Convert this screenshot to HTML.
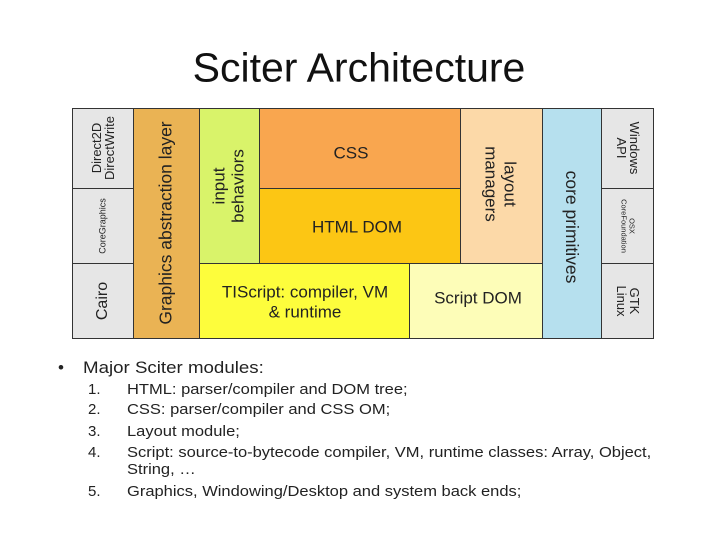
<!DOCTYPE html>
<html><head><meta charset="utf-8"><style>
body{margin:0;width:720px;height:540px;background:#fff;position:relative;overflow:hidden;font-family:"Liberation Sans",Arial,sans-serif}
.b{position:absolute;border:1px solid #333;box-sizing:border-box}
.t{position:absolute;white-space:nowrap;text-align:center;line-height:1.0;color:#222}
.l{transform:translate(-50%,-50%) rotate(-90deg)}
.r{transform:translate(-50%,-50%) rotate(90deg)}
.c{transform:translate(-50%,-50%)}
.txt{position:absolute;white-space:nowrap;font-size:15px;color:#222;transform-origin:0 0}
.s{transform:scaleX(1.1)}
</style></head><body>
<div class="t c" style="left:359px;top:68px;font-size:41px;color:#111">Sciter Architecture</div>

<div class="b" style="left:72px;top:108px;width:62px;height:81px;background:#e6e6e6"></div>
<div class="b" style="left:72px;top:188px;width:62px;height:76px;background:#e6e6e6"></div>
<div class="b" style="left:72px;top:263px;width:62px;height:76px;background:#e6e6e6"></div>
<div class="b" style="left:133px;top:108px;width:67px;height:231px;background:#eab354"></div>
<div class="b" style="left:199px;top:108px;width:61px;height:156px;background:#d9f36a"></div>
<div class="b" style="left:259px;top:108px;width:202px;height:81px;background:#f9a64f"></div>
<div class="b" style="left:259px;top:188px;width:202px;height:76px;background:#fcc614"></div>
<div class="b" style="left:460px;top:108px;width:83px;height:156px;background:#fcd9a8"></div>
<div class="b" style="left:199px;top:263px;width:211px;height:76px;background:#fdfd3c"></div>
<div class="b" style="left:409px;top:263px;width:134px;height:76px;background:#fdfdb8"></div>
<div class="b" style="left:542px;top:108px;width:60px;height:231px;background:#b6e0ee"></div>
<div class="b" style="left:601px;top:108px;width:53px;height:81px;background:#e6e6e6"></div>
<div class="b" style="left:601px;top:188px;width:53px;height:76px;background:#e6e6e6"></div>
<div class="b" style="left:601px;top:263px;width:53px;height:76px;background:#e6e6e6"></div>

<div class="t l" style="left:103px;top:148px;font-size:13px">Direct2D<br>DirectWrite</div>
<div class="t l" style="left:103px;top:226px;font-size:9px">CoreGraphics</div>
<div class="t l" style="left:103px;top:301px;font-size:16px">Cairo</div>
<div class="t l" style="left:166px;top:223px;font-size:17.5px">Graphics abstraction layer</div>
<div class="t l" style="left:229px;top:186px;font-size:17px;line-height:1.1">input<br>behaviors</div>
<div class="t c" style="left:351px;top:153px;font-size:17px">CSS</div>
<div class="t c" style="left:357px;top:227px;font-size:17px">HTML DOM</div>
<div class="t r" style="left:500px;top:184px;font-size:17px;line-height:1.1">layout<br>managers</div>
<div class="t c" style="left:305px;top:302px;font-size:17px;line-height:1.15">TIScript: compiler, VM<br>&amp; runtime</div>
<div class="t c" style="left:478px;top:298px;font-size:17px">Script DOM</div>
<div class="t r" style="left:571px;top:227px;font-size:17.5px">core primitives</div>
<div class="t r" style="left:628px;top:148px;font-size:13px">Windows<br>API</div>
<div class="t r" style="left:628px;top:226px;font-size:7.5px">OSX<br>CoreFoundation</div>
<div class="t r" style="left:628px;top:301px;font-size:13px">GTK<br>Linux</div>

<div class="txt" style="left:58px;top:358px;font-size:17px">•</div>
<div class="txt s" style="left:83px;top:358px;font-size:17px">Major Sciter modules:</div>
<div class="txt" style="left:88px;top:381px">1.</div>
<div class="txt" style="left:88px;top:401px">2.</div>
<div class="txt" style="left:88px;top:423px">3.</div>
<div class="txt" style="left:88px;top:444px">4.</div>
<div class="txt" style="left:88px;top:483px">5.</div>
<div class="txt s" style="left:127px;top:381px">HTML: parser/compiler and DOM tree;</div>
<div class="txt s" style="left:127px;top:401px">CSS: parser/compiler and CSS OM;</div>
<div class="txt s" style="left:127px;top:423px">Layout module;</div>
<div class="txt s" style="left:127px;top:444px">Script: source-to-bytecode compiler, VM, runtime classes: Array, Object,</div>
<div class="txt s" style="left:127px;top:461px">String, …</div>
<div class="txt s" style="left:127px;top:483px">Graphics, Windowing/Desktop and system back ends;</div>
</body></html>
